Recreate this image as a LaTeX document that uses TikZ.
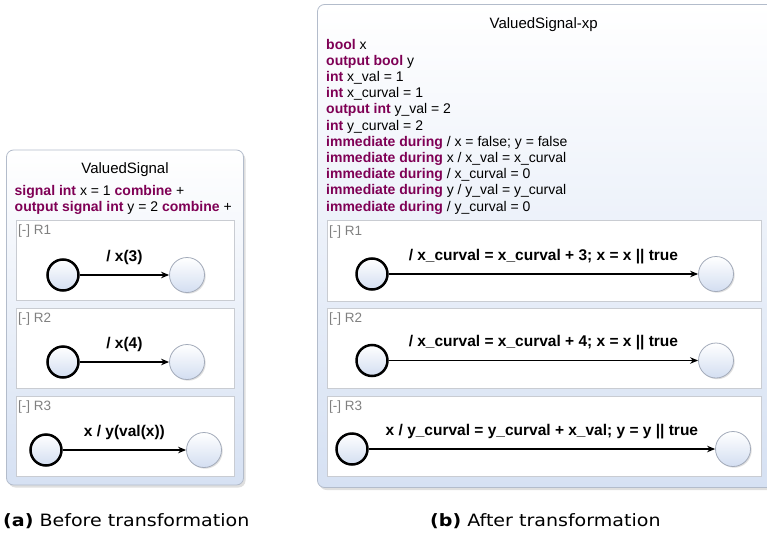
\documentclass[tikz,border=0pt]{standalone}
\usepackage{fontspec}
\setmainfont{Liberation Sans}
\newfontfamily\capfont{DejaVu Sans}
\usetikzlibrary{arrows.meta, positioning, calc, shadows}

\definecolor{kwred}{HTML}{7F0055}
\definecolor{regiongray}{HTML}{808080}
\definecolor{regionline}{HTML}{C9CCD2}
\definecolor{panelblue}{HTML}{D6E1F3}
\definecolor{panelline}{HTML}{B3BCCB}
\definecolor{statefill}{HTML}{D3DEF1}
\definecolor{stateline}{HTML}{A3ABBA}

\newcommand{\kw}[1]{\textbf{\textcolor{kwred}{#1}}}

\begin{document}
\begin{tikzpicture}[
    x=1pt, y=-1pt,
    panel/.style={draw=panelline, line width=0.8pt, rounded corners=7pt,
        top color=white, bottom color=panelblue, inner sep=0,
        drop shadow={shadow xshift=2pt, shadow yshift=-2.5pt, opacity=0.25}},
    region/.style={draw=regionline, line width=0.8pt, fill=white,
        anchor=north west, inner sep=0},
    regionlabel/.style={anchor=base west, inner sep=0, text=regiongray,
        font=\fontsize{13.5}{14}\selectfont},
    initstate/.style={circle, draw=black, line width=2.5pt, minimum size=31pt,
        inner sep=0, top color=white, bottom color=statefill},
    plainstate/.style={circle, draw=stateline, line width=0.8pt, minimum size=35pt,
        inner sep=0, top color=white, bottom color=statefill,
        drop shadow={shadow xshift=1.2pt, shadow yshift=-1.2pt, opacity=0.25}},
    myarrow/.style={-{Stealth[length=8pt, width=6.5pt]}, line width=1.4pt},
    translabel/.style={midway, above=9.5pt, inner sep=0,
        font=\fontsize{15.5}{15.5}\selectfont\bfseries},
    decl/.style={anchor=north west, inner sep=0, align=left,
        font=\fontsize{14}{16.2}\selectfont},
    heading/.style={anchor=base, inner sep=0, font=\fontsize{15}{15}\selectfont},
    caption/.style={anchor=base west, inner sep=0, xscale=1.12,
        font=\capfont\fontsize{17}{18}\selectfont},
]
\useasboundingbox (0,0) rectangle (767,532);
\clip (0,0) rectangle (767,532);

% ===================== (a) BEFORE =====================
\node[panel, minimum width=237pt, minimum height=335pt] (lpanel) at (125,317.5) {};
\node[heading] (ltitle) at (125,173) {ValuedSignal};
\node[decl] (ldecl) at (14.5,184.8) {%
    \kw{signal int} x = 1 \kw{combine} +\\
    \kw{output signal int} y = 2 \kw{combine} +};

% regions
\node[region, minimum width=218pt, minimum height=80pt] (lregA) at (16,219.5) {};
\node[region, minimum width=218pt, minimum height=80.5pt] (lregB) at (16,307.5) {};
\node[region, minimum width=218pt, minimum height=80pt] (lregC) at (16,396) {};
\node[regionlabel] (llabA) at ($(lregA.north west)+(2,14.5)$) {[-] R1};
\node[regionlabel] (llabB) at ($(lregB.north west)+(2,14.5)$) {[-] R2};
\node[regionlabel] (llabC) at ($(lregC.north west)+(2,14.5)$) {[-] R3};

% states and transitions
\node[initstate] (lsrcA) at (63,275) {};
\node[plainstate] (ldstA) at (187,275) {};
\draw[myarrow] (lsrcA) -- (ldstA) node[translabel] (ltrA) {/ x(3)};

\node[initstate] (lsrcB) at (63,362) {};
\node[plainstate] (ldstB) at (187,362) {};
\draw[myarrow] (lsrcB) -- (ldstB) node[translabel] (ltrB) {/ x(4)};

\node[initstate] (lsrcC) at (46,450) {};
\node[plainstate] (ldstC) at (204,450) {};
\draw[myarrow] (lsrcC) -- (ldstC) node[translabel] (ltrC) {x / y(val(x))};

% ===================== (b) AFTER =====================
\node[panel, minimum width=462.5pt, minimum height=483pt] (rpanel) at (548.75,246) {};
\node[heading] (rtitle) at (543.7,28.5) {ValuedSignal-xp};
\node[decl] (rdecl) at (326,38.8) {%
    \kw{bool} x\\
    \kw{output bool} y\\
    \kw{int} x\_val = 1\\
    \kw{int} x\_curval = 1\\
    \kw{output int} y\_val = 2\\
    \kw{int} y\_curval = 2\\
    \kw{immediate during} / x = false; y = false\\
    \kw{immediate during} x / x\_val = x\_curval\\
    \kw{immediate during} / x\_curval = 0\\
    \kw{immediate during} y / y\_val = y\_curval\\
    \kw{immediate during} / y\_curval = 0};

% regions
\node[region, minimum width=433.5pt, minimum height=80.5pt] (rregA) at (327,220) {};
\node[region, minimum width=433.5pt, minimum height=80.5pt] (rregB) at (327,307.5) {};
\node[region, minimum width=433.5pt, minimum height=80.5pt] (rregC) at (327,395.5) {};
\node[regionlabel] (rlabA) at ($(rregA.north west)+(2,15)$) {[-] R1};
\node[regionlabel] (rlabB) at ($(rregB.north west)+(2,15)$) {[-] R2};
\node[regionlabel] (rlabC) at ($(rregC.north west)+(2,15)$) {[-] R3};

% states and transitions
\node[initstate] (rsrcA) at (372,274) {};
\node[plainstate] (rdstA) at (716,274) {};
\draw[myarrow] (rsrcA) -- (rdstA) node[translabel] (rtrA)
    {/ x\_curval = x\_curval + 3; x = x || true};

\node[initstate] (rsrcB) at (372,360.5) {};
\node[plainstate] (rdstB) at (716,360.5) {};
\draw[myarrow] (rsrcB) -- (rdstB) node[translabel] (rtrB)
    {/ x\_curval = x\_curval + 4; x = x || true};

\node[initstate] (rsrcC) at (352,449) {};
\node[plainstate] (rdstC) at (733,449) {};
\draw[myarrow] (rsrcC) -- (rdstC) node[translabel] (rtrC)
    {x / y\_curval = y\_curval + x\_val; y = y || true};

% ===================== CAPTIONS =====================
\node[caption] (capa) at (3,526) {\textbf{(a)} Before transformation};
\node[caption] (capb) at (430,526) {\textbf{(b)} After transformation};

\end{tikzpicture}
\end{document}
